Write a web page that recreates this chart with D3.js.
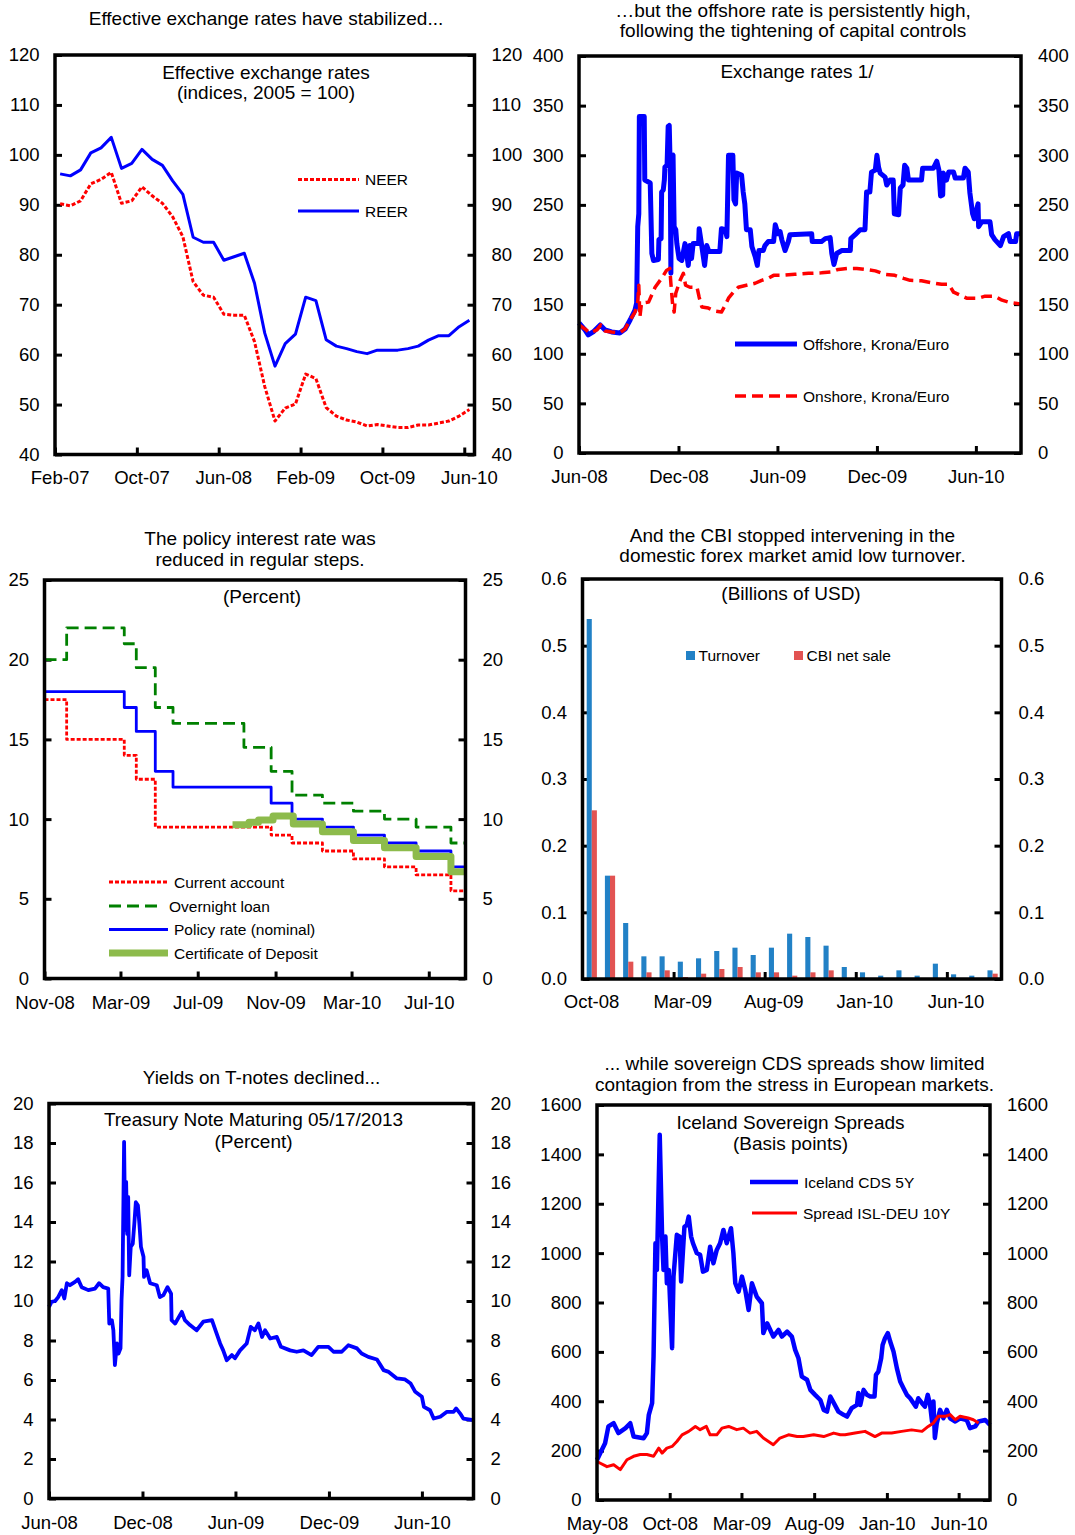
<!DOCTYPE html>
<html>
<head>
<meta charset="utf-8">
<script src="https://cdn.jsdelivr.net/npm/d3@7/dist/d3.min.js"></script>
<style>
  html,body{margin:0;padding:0;background:#fff;}
  svg{display:block;}
</style>
</head>
<body>
<svg id="chart" width="1075" height="1535"></svg>
<script>
// ================= DATA =================
// Panel 1: effective exchange rates (monthly, indices 2005=100)
const eerMonths = ["Feb-07","Mar-07","Apr-07","May-07","Jun-07","Jul-07","Aug-07","Sep-07","Oct-07","Nov-07","Dec-07",
  "Jan-08","Feb-08","Mar-08","Apr-08","May-08","Jun-08","Jul-08","Aug-08","Sep-08","Oct-08","Nov-08","Dec-08",
  "Jan-09","Feb-09","Mar-09","Apr-09","May-09","Jun-09","Jul-09","Aug-09","Sep-09","Oct-09","Nov-09","Dec-09",
  "Jan-10","Feb-10","Mar-10","Apr-10","May-10","Jun-10"];
const neer = [90.2,89.8,90.8,94.2,95.1,96.5,90.3,90.8,93.6,91.8,90.3,87.6,83.6,74.6,71.9,71.5,68.1,67.9,67.9,62.6,
  53.6,46.7,49.3,50.1,56.1,55.2,49.4,47.7,46.9,46.5,45.7,46.0,45.7,45.4,45.4,45.9,45.9,46.3,46.7,47.7,49.0];
const reer = [96.2,95.8,97.0,100.4,101.4,103.5,97.3,98.3,101.1,99.1,97.9,94.8,92.1,83.5,82.5,82.5,78.9,79.6,80.3,74.3,
  64.3,57.7,62.2,64.1,71.5,70.8,63.0,61.7,61.2,60.6,60.2,60.9,60.9,60.9,61.2,61.7,62.9,63.8,63.8,65.6,66.9];
const eerTickLabels = ["Feb-07","Oct-07","Jun-08","Feb-09","Oct-09","Jun-10"];
const eerYTicks = [40,50,60,70,80,90,100,110,120];

// Panel 2: exchange rates (Krona/Euro), days since fxStart
const fxStart = "2008-06-01";
const offshoreDay = [0,11,17,26,39,48,60,75,85,94,103,106,108,110,111,120,121,131,134,137,146,147,151,152,155,157,158,162,164,166,
  168,169,170,173,175,178,180,184,189,195,198,201,204,207,210,220,221,226,231,235,239,259,262,269,272,275,283,285,288,290,
  299,302,305,308,315,318,324,328,331,339,342,348,358,361,366,370,373,379,385,388,428,429,446,453,462,465,469,474,483,499,
  500,508,517,526,529,535,538,545,548,551,554,563,566,572,578,580,588,591,596,599,603,606,630,632,652,658,662,665,669,670,
  676,680,689,692,707,710,716,719,724,727,734,735,741,756,759,765,775,781,790,793,803,805,813];
const offshoreRate = [131,124,119,122,129,124,122,121,125,134,144,151,228,241,339,339,275,272,201,194,195,215,216,263,265,275,288,290,329,330,
  282,181,299,300,228,225,211,196,194,211,201,189,209,196,211,211,226,208,189,209,203,203,226,225,218,300,300,255,251,282,
  280,263,251,225,225,208,198,189,204,204,209,213,213,230,221,223,215,204,213,220,221,213,213,216,217,201,190,201,204,204,
  216,220,225,225,263,263,283,285,300,288,282,278,270,275,275,241,240,267,270,290,287,275,275,287,287,294,285,259,260,282,
  275,283,283,277,277,287,283,262,241,236,251,228,233,233,220,215,209,218,221,213,213,221,221];
const onshoreDay = [0,11,20,33,40,48,60,75,85,94,103,108,110,112,115,128,140,152,161,167,169,172,175,178,186,192,196,204,217,221,
  226,238,250,262,269,275,284,293,308,324,336,348,358,373,397,422,446,465,477,496,511,526,545,563,581,597,609,630,649,667,
  680,689,701,713,735,747,765,778,790,802,813];
const onshoreRate = [129,125,121,124,129,123,122,121,125,134,142,152,169,137,151,152,167,176,184,186,171,151,142,161,174,181,169,167,167,157,
  147,146,143,142,149,156,162,167,169,171,174,176,179,179,180,181,181.5,182.5,185,186,186,185,183.5,180,179,176,174,173.5,171.5,170,
  170,162,159,156,156,158,158,154,152,151,150];
const fxTickDates = ["2008-06-01","2008-12-01","2009-06-01","2009-12-01","2010-06-01"];
const fxYTicks = [0,50,100,150,200,250,300,350,400];

// Panel 3: policy interest rates (step changes)
const rateRange = ["2008-11-01","2010-08-28"];
const currentAccountDates = ["2008-11-01","2008-12-06","2009-03-07","2009-03-26","2009-04-25","2009-10-25","2009-11-27","2010-01-14","2010-03-04","2010-04-22","2010-06-11","2010-08-05"];
const currentAccountRates = [17.5,15,14,12.5,9.5,9,8.5,8,7.5,7,6.5,5.5];
const overnightDates = ["2008-11-01","2008-12-06","2009-03-07","2009-03-26","2009-04-25","2009-05-23","2009-09-12","2009-10-25","2009-11-27","2010-01-14","2010-03-04","2010-04-22","2010-06-11","2010-08-05"];
const overnightRates = [20,22,21,19.5,17,16,14.5,13,11.5,11,10.5,10,9.5,8.5];
const policyDates = ["2008-11-01","2009-03-07","2009-03-26","2009-04-25","2009-05-23","2009-10-25","2009-11-27","2010-01-14","2010-03-04","2010-04-22","2010-06-11","2010-08-05"];
const policyRates = [18,17,15.5,13,12,11,10,9.5,9,8.5,8,7];
const cdDates = ["2009-08-25","2009-09-20","2009-10-05","2009-10-28","2009-11-29","2010-01-14","2010-03-04","2010-04-22","2010-06-11","2010-08-05"];
const cdRates = [9.65,9.8,9.95,10.2,9.7,9.2,8.65,8.2,7.65,6.7];
const rateTickDates = ["2008-11-01","2009-03-01","2009-07-01","2009-11-01","2010-03-01","2010-07-01"];
const rateYTicks = [0,5,10,15,20,25];

// Panel 4: forex market (billions of USD)
const fxMonths = ["Oct-08","Nov-08","Dec-08","Jan-09","Feb-09","Mar-09","Apr-09","May-09","Jun-09","Jul-09","Aug-09","Sep-09",
  "Oct-09","Nov-09","Dec-09","Jan-10","Feb-10","Mar-10","Apr-10","May-10","Jun-10","Jul-10","Aug-10"];
const turnover = [0.540,0.155,0.084,0.034,0.034,0.026,0.031,0.042,0.047,0.036,0.047,0.068,0.063,0.050,0.018,0.010,0.005,0.013,0.005,0.023,0.007,0.005,0.013];
const cbiNetSale = [0.253,0.155,0.026,0.010,0.013,0.003,0.008,0.015,0.018,0.010,0.010,0.005,0.010,0.013,0,0,0,0,0,0,0,0,0.008];
const fxTickMonths = ["Oct-08","Mar-09","Aug-09","Jan-10","Jun-10"];
const barYTicks = [0,0.1,0.2,0.3,0.4,0.5,0.6];

// Panel 5: Treasury note yield (percent), days since tnoteStart
const tnoteStart = "2008-06-01";
const tnoteDay = [0,5,12,18,25,30,35,41,51,57,64,77,90,98,106,116,118,123,126,129,133,136,140,142,144,147,149,151,153,155,
  157,160,164,167,170,174,177,180,185,186,191,198,211,217,224,232,239,240,247,260,266,276,289,302,319,327,335,341,348,358,
  364,374,387,395,403,410,417,423,433,446,454,472,485,498,514,527,547,557,573,586,603,612,625,642,655,665,681,697,708,717,
  730,734,746,753,766,779,792,797,805,811,831];
const tnoteYield = [9.7,9.96,10.0,10.2,10.55,10.13,10.9,10.8,10.97,11.1,10.7,10.55,10.63,10.9,10.7,10.63,8.86,9.03,8.52,6.75,
  7.85,7.34,7.6,10.04,11.22,18.06,13.6,16.03,13.4,15.27,11.3,12.74,12.9,13.9,15.0,14.85,13.9,12.74,12.24,11.22,
  11.56,10.9,10.8,10.2,10.3,10.7,10.37,9.03,8.86,9.45,9.03,8.78,8.52,8.95,9.03,8.44,7.85,7.5,7.0,7.26,
  7.1,7.5,7.85,8.69,8.52,8.86,8.18,8.52,8.1,8.18,7.68,7.5,7.43,7.5,7.26,7.68,7.68,7.43,7.43,7.76,
  7.6,7.34,7.17,7.04,6.5,6.41,6.08,6.03,5.82,5.4,5.15,4.64,4.47,4.05,4.14,4.39,4.39,4.56,4.3,4.05,3.97];
const tnoteTickDates = ["2008-06-01","2008-12-01","2009-06-01","2009-12-01","2010-06-01"];
const tnoteYTicks = [0,2,4,6,8,10,12,14,16,18,20];

// Panel 6: sovereign spreads (basis points), days since spreadStart
const spreadStart = "2008-05-01";
const cdsDay = [0,7,17,24,35,45,60,70,77,98,105,109,116,119,123,126,132,137,140,144,147,151,158,161,168,174,177,184,189,193,
  198,202,210,217,223,231,238,245,252,259,266,273,282,287,291,298,305,312,319,326,336,347,350,358,371,382,389,400,410,417,
  424,431,442,449,459,470,477,484,491,508,519,526,536,547,550,554,561,568,575,584,587,592,598,601,606,612,617,624,631,638,
  645,652,659,671,676,684,690,696,701,705,708,711,715,722,729,736,743,754,764,778,785,796,803,817,827];
const cdsBp = [162,190,230,298,311,271,291,311,257,250,271,345,392,581,1040,932,1479,1067,932,1067,878,932,615,905,1074,1067,885,1107,1114,1148,
  1067,1040,1000,993,925,932,1026,959,1013,1040,1094,1040,1101,1000,878,844,905,851,770,878,824,797,676,716,662,689,662,682,662,608,
  574,500,487,446,426,405,365,358,419,358,345,338,372,385,433,385,446,426,419,419,507,520,574,628,655,676,642,601,534,480,
  453,426,412,378,412,392,378,426,385,318,399,251,311,365,331,365,331,318,331,324,291,298,318,324,304];
const islDeuDay = [0,7,21,35,49,63,77,91,105,119,130,137,147,158,168,179,186,193,207,217,230,238,252,263,277,294,308,322,336,350,
  371,385,403,421,434,456,477,498,512,522,543,564,585,599,620,641,662,684,697,708,718,733,743,754,764,781,792,803];
const islDeuBp = [156,149,135,143,123,163,177,184,184,177,210,190,210,217,237,264,271,278,298,285,298,264,264,291,298,285,291,271,278,251,
  224,251,264,257,257,264,257,271,264,264,271,278,257,271,271,278,284,278,298,312,339,339,346,325,339,332,325,312];
const spreadTickDates = ["2008-05-01","2008-10-01","2009-03-01","2009-08-01","2010-01-01","2010-06-01"];
const spreadYTicks = [0,200,400,600,800,1000,1200,1400,1600];

// ================= DRAWING =================
const svg = d3.select("#chart");
const FONT = '"Liberation Sans", Arial, Helvetica, sans-serif';
const TICK_FS = 18.5, TITLE_FS = 19, LEG_FS = 15.5;
const BLUE = "#0000FF", RED = "#FF0000", GREEN = "#008000", LGREEN = "#8DBB4C";
const BAR_BLUE = "#2281C6", BAR_RED = "#E25352";
const parse = d3.utcParse("%Y-%m-%d");
const fmtMonth = d3.utcFormat("%b-%y");
const dayDate = (start, n) => d3.utcDay.offset(parse(start), n);

function styleAxis(s) {
  s.attr("font-family", FONT).attr("font-size", TICK_FS);
  s.select(".domain").remove();
  s.selectAll(".tick line").attr("stroke", "#000").attr("stroke-width", 3);
  s.selectAll(".tick text").attr("fill", "#000");
}
function yAxes(box, y, ticks, fmt) {
  svg.append("g").attr("transform", `translate(${box.l},0)`)
    .call(d3.axisLeft(y).tickValues(ticks).tickFormat(fmt).tickSize(-7).tickPadding(15.5)).call(styleAxis);
  svg.append("g").attr("transform", `translate(${box.r},0)`)
    .call(d3.axisRight(y).tickValues(ticks).tickFormat(fmt).tickSize(-7).tickPadding(17)).call(styleAxis);
}
function frame(box) {
  svg.append("rect").attr("x", box.l).attr("y", box.t).attr("width", box.r - box.l).attr("height", box.b - box.t)
    .attr("fill", "none").attr("stroke", "#000").attr("stroke-width", 3.5);
}
function label(x, y, str, size, anchor) {
  svg.append("text").attr("x", x).attr("y", y).attr("dy", "0.36em")
    .attr("text-anchor", anchor || "middle").attr("font-family", FONT).attr("font-size", size)
    .attr("fill", "#000").text(str);
}
function path(data, line, color, width, dash) {
  const p = svg.append("path").datum(data).attr("d", line).attr("fill", "none")
    .attr("stroke", color).attr("stroke-width", width).attr("stroke-linejoin", "round");
  if (dash) p.attr("stroke-dasharray", dash);
  return p;
}
function legendLine(x1, x2, y, color, width, dash, text) {
  const l = svg.append("line").attr("x1", x1).attr("x2", x2).attr("y1", y).attr("y2", y)
    .attr("stroke", color).attr("stroke-width", width);
  if (dash) l.attr("stroke-dasharray", dash);
  label(x2 + 6, y, text, LEG_FS, "start");
}

// ---------- Panel 1 ----------
{
  const box = {l: 55, r: 474.5, t: 55, b: 454.5};
  const x = d3.scaleBand().domain(eerMonths).range([box.l, box.r]).padding(0);
  const xi = d3.scaleLinear().domain([0, eerMonths.length]).range([box.l, box.r]);
  const y = d3.scaleLinear().domain([40, 120]).range([box.b, box.t]);
  yAxes(box, y, eerYTicks, d3.format("d"));
  svg.append("g").attr("transform", `translate(0,${box.b})`)
    .call(d3.axisBottom(xi).tickValues(eerTickLabels.map(m => eerMonths.indexOf(m))).tickFormat("").tickSize(-7)).call(styleAxis);
  svg.append("g").attr("transform", `translate(0,${box.b})`)
    .call(d3.axisBottom(x).tickValues(eerTickLabels).tickSize(0).tickPadding(16)).call(styleAxis);
  const cx = m => x(m) + x.bandwidth() / 2;
  const line = d3.line().x(d => cx(d[0])).y(d => y(d[1]));
  path(eerMonths.map((m, i) => [m, reer[i]]), line, BLUE, 3);
  path(eerMonths.map((m, i) => [m, neer[i]]), line, RED, 3, "4,2");
  frame(box);
  label(266, 18, "Effective exchange rates have stabilized...", TITLE_FS);
  label(266, 72, "Effective exchange rates", TITLE_FS);
  label(266, 92.5, "(indices, 2005 = 100)", TITLE_FS);
  legendLine(298, 359, 179.5, RED, 3, "4,2", "NEER");
  legendLine(298, 359, 211, BLUE, 3, null, "REER");
}

// ---------- Panel 2 ----------
{
  const box = {l: 579, r: 1021, t: 56, b: 453};
  const off = offshoreDay.map((d, i) => [dayDate(fxStart, d), offshoreRate[i]]);
  const on = onshoreDay.map((d, i) => [dayDate(fxStart, d), onshoreRate[i]]);
  const x = d3.scaleUtc().domain(d3.extent(off, d => d[0])).range([box.l, box.r]);
  const y = d3.scaleLinear().domain([0, 400]).range([box.b, box.t]);
  yAxes(box, y, fxYTicks, d3.format("d"));
  svg.append("g").attr("transform", `translate(0,${box.b})`)
    .call(d3.axisBottom(x).tickValues(fxTickDates.map(parse)).tickFormat(fmtMonth).tickSize(-7).tickPadding(17)).call(styleAxis);
  const line = d3.line().x(d => x(d[0])).y(d => y(d[1]));
  path(off, line, BLUE, 5);
  path(on, line, RED, 3.5, "11,6");
  frame(box);
  label(793, 10.5, "\u2026but the offshore rate is persistently high,", TITLE_FS);
  label(793, 30.5, "following the tightening of capital controls", TITLE_FS);
  label(797, 71, "Exchange rates 1/", TITLE_FS);
  legendLine(735, 797, 344, BLUE, 5, null, "Offshore, Krona/Euro");
  legendLine(735, 797, 396, RED, 3.5, "11,6", "Onshore, Krona/Euro");
}

// ---------- Panel 3 ----------
{
  const box = {l: 44.5, r: 465.5, t: 580, b: 978.5};
  const dom = rateRange.map(parse);
  const x = d3.scaleUtc().domain(dom).range([box.l, box.r]);
  const y = d3.scaleLinear().domain([0, 25]).range([box.b, box.t]);
  yAxes(box, y, rateYTicks, d3.format("d"));
  svg.append("g").attr("transform", `translate(0,${box.b})`)
    .call(d3.axisBottom(x).tickValues(rateTickDates.map(parse)).tickFormat(fmtMonth).tickSize(-7).tickPadding(17.5)).call(styleAxis);
  const steps = (dates, vals) => {
    const pts = dates.map((d, i) => [parse(d), vals[i]]);
    pts.push([dom[1], vals[vals.length - 1]]);
    return pts;
  };
  const line = d3.line().x(d => x(d[0])).y(d => y(d[1])).curve(d3.curveStepAfter);
  path(steps(overnightDates, overnightRates), line, GREEN, 2.8, "12,6");
  path(steps(policyDates, policyRates), line, BLUE, 2.8);
  path(steps(currentAccountDates, currentAccountRates), line, RED, 2.8, "4,2");
  path(steps(cdDates, cdRates), line, LGREEN, 7);
  frame(box);
  label(260, 538.5, "The policy interest rate was", TITLE_FS);
  label(260, 559.5, "reduced in regular steps.", TITLE_FS);
  label(262, 596, "(Percent)", TITLE_FS);
  legendLine(109, 168, 882, RED, 2.8, "4,2", "Current account");
  legendLine(109, 163, 906, GREEN, 2.8, "12,6", "Overnight loan");
  legendLine(109, 168, 929.5, BLUE, 2.8, null, "Policy rate (nominal)");
  legendLine(109, 168, 953, LGREEN, 7, null, "Certificate of Deposit");
}

// ---------- Panel 4 ----------
{
  const box = {l: 582.5, r: 1001.5, t: 579, b: 979};
  const x = d3.scaleBand().domain(fxMonths).range([box.l, box.r]).padding(0);
  const xi = d3.scaleLinear().domain([0, fxMonths.length]).range([box.l, box.r]);
  const y = d3.scaleLinear().domain([0, 0.6]).range([box.b, box.t]);
  yAxes(box, y, barYTicks, d3.format(".1f"));
  const bw = x.bandwidth();
  svg.append("g").selectAll("rect").data(fxMonths).join("rect")
    .attr("x", m => x(m) + 0.23 * bw).attr("width", 0.28 * bw)
    .attr("y", (m, i) => y(turnover[i])).attr("height", (m, i) => y(0) - y(turnover[i]))
    .attr("fill", BAR_BLUE);
  svg.append("g").selectAll("rect").data(fxMonths).join("rect")
    .attr("x", m => x(m) + 0.51 * bw).attr("width", 0.28 * bw)
    .attr("y", (m, i) => y(cbiNetSale[i])).attr("height", (m, i) => y(0) - y(cbiNetSale[i]))
    .attr("fill", BAR_RED);
  svg.append("g").attr("transform", `translate(0,${box.b})`)
    .call(d3.axisBottom(xi).tickValues(fxTickMonths.slice(1).map(m => fxMonths.indexOf(m))).tickFormat("").tickSize(-7)).call(styleAxis);
  svg.append("g").attr("transform", `translate(0,${box.b})`)
    .call(d3.axisBottom(x).tickValues(fxTickMonths).tickSize(0).tickPadding(16)).call(styleAxis);
  frame(box);
  label(792.5, 535, "And the CBI stopped intervening in the", TITLE_FS);
  label(792.5, 555.5, "domestic forex market amid low turnover.", TITLE_FS);
  label(791, 593.5, "(Billions of USD)", TITLE_FS);
  svg.append("rect").attr("x", 686).attr("y", 651).attr("width", 9).attr("height", 9).attr("fill", BAR_BLUE);
  label(698.5, 655.5, "Turnover", LEG_FS, "start");
  svg.append("rect").attr("x", 794).attr("y", 651).attr("width", 9).attr("height", 9).attr("fill", BAR_RED);
  label(806.5, 655.5, "CBI net sale", LEG_FS, "start");
}

// ---------- Panel 5 ----------
{
  const box = {l: 49, r: 473.5, t: 1103.5, b: 1498.5};
  const data = tnoteDay.map((d, i) => [dayDate(tnoteStart, d), tnoteYield[i]]);
  const x = d3.scaleUtc().domain(d3.extent(data, d => d[0])).range([box.l, box.r]);
  const y = d3.scaleLinear().domain([0, 20]).range([box.b, box.t]);
  yAxes(box, y, tnoteYTicks, d3.format("d"));
  svg.append("g").attr("transform", `translate(0,${box.b})`)
    .call(d3.axisBottom(x).tickValues(tnoteTickDates.map(parse)).tickFormat(fmtMonth).tickSize(-7).tickPadding(17)).call(styleAxis);
  const line = d3.line().x(d => x(d[0])).y(d => y(d[1]));
  path(data, line, BLUE, 3.8);
  frame(box);
  label(261.5, 1077, "Yields on T-notes declined...", TITLE_FS);
  label(253.5, 1119, "Treasury Note Maturing 05/17/2013", TITLE_FS);
  label(253.5, 1141, "(Percent)", TITLE_FS);
}

// ---------- Panel 6 ----------
{
  const box = {l: 597, r: 990, t: 1105, b: 1500};
  const cds = cdsDay.map((d, i) => [dayDate(spreadStart, d), cdsBp[i]]);
  const isl = islDeuDay.map((d, i) => [dayDate(spreadStart, d), islDeuBp[i]]);
  const x = d3.scaleUtc().domain(d3.extent(cds, d => d[0])).range([box.l, box.r]);
  const y = d3.scaleLinear().domain([0, 1600]).range([box.b, box.t]);
  yAxes(box, y, spreadYTicks, d3.format("d"));
  svg.append("g").attr("transform", `translate(0,${box.b})`)
    .call(d3.axisBottom(x).tickValues(spreadTickDates.map(parse)).tickFormat(fmtMonth).tickSize(-7).tickPadding(16.5)).call(styleAxis);
  const line = d3.line().x(d => x(d[0])).y(d => y(d[1]));
  path(cds, line, BLUE, 4.5);
  path(isl, line, RED, 3);
  frame(box);
  label(794.5, 1063.5, "... while sovereign CDS spreads show limited", TITLE_FS);
  label(794.5, 1084.5, "contagion from the stress in European markets.", TITLE_FS);
  label(790.5, 1122, "Iceland Sovereign Spreads", TITLE_FS);
  label(790.5, 1143, "(Basis points)", TITLE_FS);
  legendLine(750, 798, 1182, BLUE, 4.5, null, "Iceland CDS 5Y");
  legendLine(752, 797, 1213, RED, 3, null, "Spread ISL-DEU 10Y");
}
</script>
</body>
</html>
